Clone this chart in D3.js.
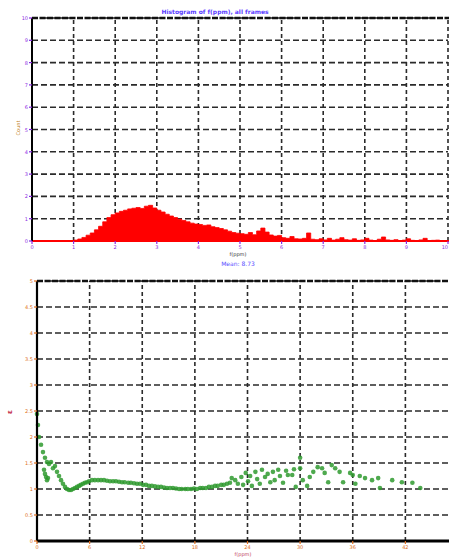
<!DOCTYPE html>
<html>
<head>
<meta charset="utf-8">
<script src="https://cdn.jsdelivr.net/npm/d3@7"></script>
<style>
  html, body { margin: 0; padding: 0; background: #fff; }
  svg { display: block; font-family: "DejaVu Sans", sans-serif; }
</style>
</head>
<body>
<svg id="chart" width="449" height="559"></svg>
<script>
// Histogram: counts per 0.1-wide bin of f(ppm), from 0 to 10
const histBinWidth = 0.1;
const histCounts = [
  0, 0, 0, 0, 0, 0, 0, 0, 0, 0.02,
  0.04, 0.09, 0.16, 0.26, 0.36, 0.5, 0.66, 0.86, 1.05, 1.18,
  1.26, 1.33, 1.38, 1.44, 1.47, 1.5, 1.46, 1.56, 1.6, 1.48,
  1.38, 1.3, 1.2, 1.12, 1.05, 0.98, 0.92, 0.86, 0.8, 0.76,
  0.74, 0.7, 0.72, 0.64, 0.6, 0.56, 0.5, 0.44, 0.38, 0.35,
  0.33, 0.3, 0.38, 0.28, 0.45, 0.58, 0.4, 0.27, 0.22, 0.25,
  0.15, 0.12, 0.2, 0.1, 0.09, 0.12, 0.36, 0.08, 0.06, 0.1,
  0.05, 0.12, 0.04, 0.08, 0.15, 0.06, 0.04, 0.1, 0.03, 0.05,
  0.12, 0.04, 0.02, 0.08, 0.18, 0.05, 0.03, 0.06, 0.02, 0.04,
  0.1, 0.03, 0.02, 0.05, 0.12, 0.02, 0.03, 0.04, 0.02, 0.02
];
const histXTicks = [0, 1, 2, 3, 4, 5, 6, 7, 8, 9, 10];
const histYTicks = [0, 1, 2, 3, 4, 5, 6, 7, 8, 9, 10];
const histTitle = "Histogram of f(ppm), all frames";
const histXLabel = "f(ppm)";
const histSubtitle = "Mean: 8.73";
const histYLabel = "Count";

// Scatter: ratio against f(ppm)
const scatterX = [
  0, 0.11, 0.23, 0.46, 0.68, 0.91, 1.14, 1.37, 1.6, 1.82, 2.05, 2.28, 2.51, 2.74, 2.96, 3.19, 3.42,
  0.8, 0.91, 1.03, 1.14, 1.25,
  3.65, 3.88, 4.1, 4.33, 4.56, 4.79, 5.0, 5.24, 5.47, 5.7, 5.93, 6.27, 6.6, 6.96, 7.3, 7.64, 7.98,
  8.32, 8.67, 9.0, 9.35, 9.69, 10.0, 10.4, 10.7, 11.06, 11.4, 11.74, 12.09, 12.43, 12.77, 13.1,
  13.45, 13.8, 14.14, 14.48, 14.82, 15.17, 15.5, 15.85, 16.2, 16.5, 16.9, 17.2, 17.56, 17.9, 18.24,
  18.6, 18.9, 19.27, 19.6, 19.95, 20.3, 20.6, 21.0, 21.3, 21.66, 22.0,
  22.2, 22.6, 22.9, 23.3, 23.5, 23.8, 24.06, 24.3, 24.5, 24.9, 25.1, 25.4, 25.65, 26.0, 26.3, 26.6,
  26.9, 27.1, 27.5, 27.7, 28.05, 28.4, 28.6, 29.1, 29.3, 29.5, 30.0, 30.0, 30.3, 30.8, 31.1, 31.5,
  32.0, 32.5, 32.8, 33.2, 33.6, 34.0, 34.5, 34.9, 35.7, 36.0, 36.3, 36.8, 37.4, 38.2, 38.9, 39.1,
  40.5, 41.6, 42.8, 43.7
];
const scatterY = [
  2.44, 2.23, 2.0, 1.85, 1.71, 1.6, 1.52, 1.48, 1.52, 1.4, 1.44, 1.33, 1.25, 1.17, 1.1, 1.04, 1.0,
  1.37, 1.29, 1.23, 1.17, 1.21,
  0.98, 0.98, 1.0, 1.02, 1.04, 1.06, 1.08, 1.1, 1.12, 1.13, 1.15, 1.17, 1.17, 1.17, 1.17, 1.17, 1.16,
  1.15, 1.15, 1.15, 1.14, 1.13, 1.13, 1.12, 1.12, 1.11, 1.1, 1.1, 1.08, 1.08, 1.06, 1.06,
  1.05, 1.04, 1.04, 1.03, 1.02, 1.02, 1.02, 1.01, 1.0, 1.0, 1.0, 1.0, 1.0, 1.01, 1.0,
  1.02, 1.02, 1.02, 1.04, 1.04, 1.06, 1.06, 1.08, 1.08, 1.1, 1.12,
  1.21, 1.17, 1.1, 1.23, 1.08, 1.31, 1.15, 1.25, 1.06, 1.33, 1.19, 1.1, 1.37, 1.23, 1.29, 1.13,
  1.33, 1.17, 1.37, 1.25, 1.12, 1.35, 1.27, 1.27, 1.38, 1.04, 1.6, 1.4, 1.17, 1.06, 1.23, 1.33,
  1.42, 1.4, 1.31, 1.13, 1.46, 1.4, 1.33, 1.13, 1.31, 1.27, 1.1, 1.25, 1.21, 1.17, 1.21, 1.02,
  1.17, 1.13, 1.12, 1.02
];
const scatterXTicks = [0, 6, 12, 18, 24, 30, 36, 42, 48];
const scatterYTicks = [0, 0.5, 1, 1.5, 2, 2.5, 3, 3.5, 4, 4.5, 5];
const scatterXLabel = "f(ppm)";
const scatterYLabel = "ε";

const W = 449;
const svg = d3.select("#chart");
const gridColor = "#2a2a2a";

function drawGrid(g, x, y, xTicks, yTicks) {
  g.append("g").selectAll("line").data(yTicks).join("line")
    .attr("x1", x.range()[0]).attr("x2", x.range()[1])
    .attr("y1", d => y(d)).attr("y2", d => y(d))
    .attr("stroke", gridColor).attr("stroke-width", 1.6)
    .attr("stroke-dasharray", "6,3");
  g.append("g").selectAll("line").data(xTicks).join("line")
    .attr("x1", d => x(d)).attr("x2", d => x(d))
    .attr("y1", y.range()[0]).attr("y2", y.range()[1])
    .attr("stroke", gridColor).attr("stroke-width", 1.6)
    .attr("stroke-dasharray", "4,3");
}

function drawTickLabels(g, x, y, xTicks, yTicks, color, fmt) {
  const y0 = y.range()[0];
  const x0 = x.range()[0];
  // only ticks that fall inside the drawing width get a label
  const shown = xTicks.filter(d => x(d) <= W);
  g.append("g").selectAll("text").data(shown).join("text")
    .attr("x", d => x(d)).attr("y", y0 + 8)
    .attr("text-anchor", d => (x(d) > W - 6 ? "end" : "middle"))
    .attr("font-size", 5).attr("fill", color)
    .text(d => fmt(d));
  g.append("g").selectAll("line").data(shown).join("line")
    .attr("x1", d => x(d)).attr("x2", d => x(d))
    .attr("y1", y0).attr("y2", y0 + 3)
    .attr("stroke", color).attr("stroke-width", 1.2);
  g.append("g").selectAll("text").data(yTicks).join("text")
    .attr("x", x0 - 4).attr("y", d => y(d) + 2)
    .attr("text-anchor", "end")
    .attr("font-size", 5).attr("fill", color)
    .text(d => fmt(d));
  g.append("g").selectAll("line").data(yTicks).join("line")
    .attr("x1", x0 - 3).attr("x2", x0)
    .attr("y1", d => y(d)).attr("y2", d => y(d))
    .attr("stroke", color).attr("stroke-width", 1.2);
}

// ---------- Top panel: histogram ----------
{
  const xH = d3.scaleLinear().domain([0, 10]).range([32, 448]);
  const yH = d3.scaleLinear().domain([0, 10]).range([241, 18]);
  const g = svg.append("g");

  drawGrid(g, xH, yH, histXTicks, histYTicks);

  const bins = histCounts.map((c, i) => ({ x0: i * histBinWidth, v: c }));
  bins.push({ x0: histCounts.length * histBinWidth, v: histCounts[histCounts.length - 1] });

  const area = d3.area()
    .x(d => xH(d.x0))
    .y0(yH(0))
    .y1(d => yH(d.v))
    .curve(d3.curveStepAfter);
  g.append("path").datum(bins)
    .attr("d", area)
    .attr("fill", "#ff0000")
    .attr("stroke", "#ff0000")
    .attr("stroke-width", 0.8);

  // red baseline
  g.append("line")
    .attr("x1", xH(0)).attr("x2", W)
    .attr("y1", yH(0)).attr("y2", yH(0))
    .attr("stroke", "#ff0000").attr("stroke-width", 2.2);

  // frame: left axis solid, top edge heavy dashed
  g.append("line")
    .attr("x1", xH(0)).attr("x2", xH(0))
    .attr("y1", yH(10)).attr("y2", yH(0))
    .attr("stroke", "#000").attr("stroke-width", 2);
  g.append("line")
    .attr("x1", xH(0)).attr("x2", W)
    .attr("y1", yH(10)).attr("y2", yH(10))
    .attr("stroke", "#111").attr("stroke-width", 2.4)
    .attr("stroke-dasharray", "6,1.5");

  drawTickLabels(g, xH, yH, histXTicks, histYTicks, "#8a2be2", d3.format("d"));

  g.append("text")
    .attr("x", 215).attr("y", 14)
    .attr("text-anchor", "middle")
    .attr("font-size", 6).attr("font-weight", "bold")
    .attr("fill", "#5a3cff")
    .text(histTitle);
  g.append("text")
    .attr("x", 238).attr("y", 256)
    .attr("text-anchor", "middle")
    .attr("font-size", 5).attr("fill", "#333")
    .text(histXLabel);
  g.append("text")
    .attr("x", 238).attr("y", 266)
    .attr("text-anchor", "middle")
    .attr("font-size", 6).attr("fill", "#5a50ff")
    .text(histSubtitle);
  g.append("text")
    .attr("transform", "translate(20,128) rotate(-90)")
    .attr("text-anchor", "middle")
    .attr("font-size", 5).attr("fill", "#c08020")
    .text(histYLabel);
}

// ---------- Bottom panel: scatter ----------
{
  const xS = d3.scaleLinear().domain([0, 48]).range([37, 458]);
  const yS = d3.scaleLinear().domain([0, 5]).range([541, 281]);
  const g = svg.append("g");

  drawGrid(g, xS, yS, scatterXTicks, scatterYTicks);

  const pts = scatterX.map((x, i) => ({ x, y: scatterY[i] }));
  g.append("g").selectAll("circle").data(pts).join("circle")
    .attr("cx", d => xS(d.x))
    .attr("cy", d => yS(d.y))
    .attr("r", 2.3)
    .attr("fill", "#2f9a2f")
    .attr("fill-opacity", 0.85);

  // frame
  g.append("line")
    .attr("x1", xS(0)).attr("x2", xS(0))
    .attr("y1", yS(5)).attr("y2", yS(0))
    .attr("stroke", "#000").attr("stroke-width", 2.2);
  g.append("line")
    .attr("x1", xS(0)).attr("x2", W)
    .attr("y1", yS(0)).attr("y2", yS(0))
    .attr("stroke", "#000").attr("stroke-width", 3);
  g.append("line")
    .attr("x1", xS(0)).attr("x2", W)
    .attr("y1", yS(5)).attr("y2", yS(5))
    .attr("stroke", "#111").attr("stroke-width", 2.4)
    .attr("stroke-dasharray", "6,1.5");

  drawTickLabels(g, xS, yS, scatterXTicks, scatterYTicks, "#e07020", d3.format("~g"));

  g.append("text")
    .attr("x", 243).attr("y", 556)
    .attr("text-anchor", "middle")
    .attr("font-size", 5).attr("fill", "#c04060")
    .text(scatterXLabel);
  g.append("text")
    .attr("transform", "translate(12,412) rotate(-90)")
    .attr("text-anchor", "middle")
    .attr("font-size", 7).attr("font-weight", "bold").attr("fill", "#c02040")
    .text(scatterYLabel);
}
</script>
</body>
</html>
